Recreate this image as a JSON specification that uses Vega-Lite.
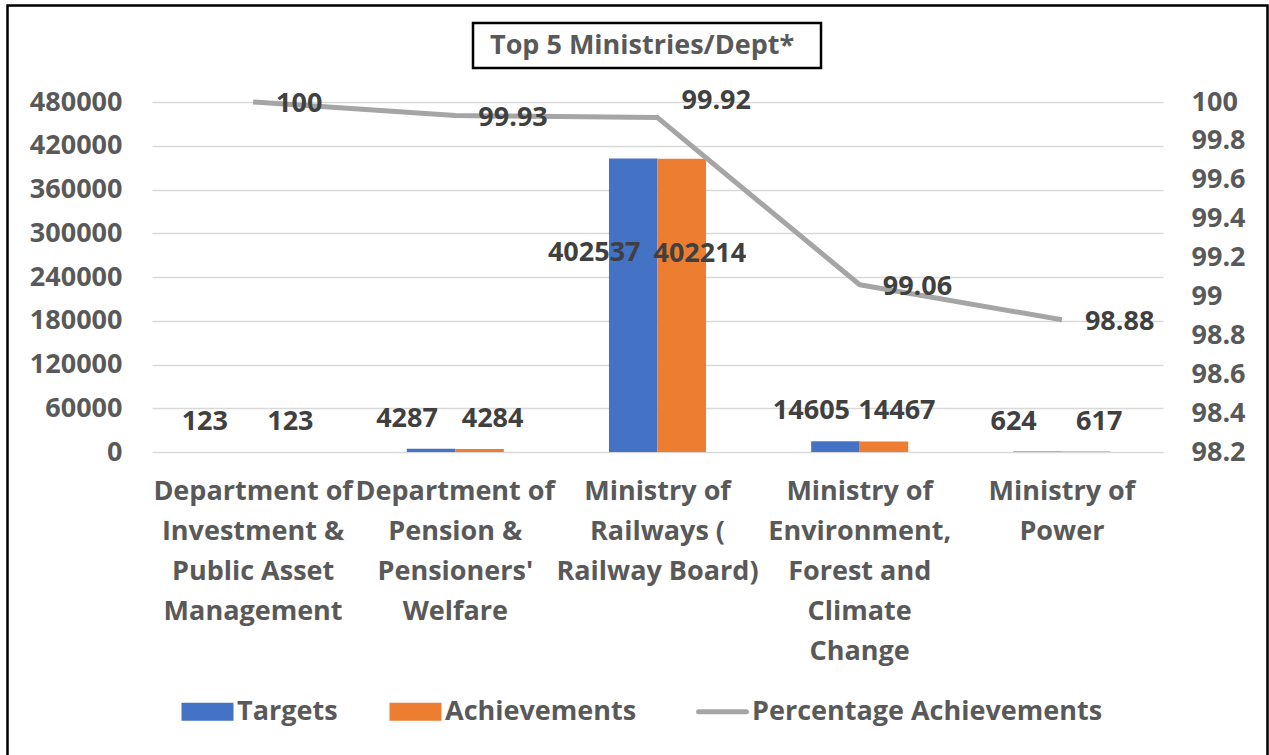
{
  "$schema": "https://vega.github.io/schema/vega-lite/v6.json",
  "autosize": {"type": "none"},
  "width": 1011,
  "height": 350,
  "padding": {"left": 152, "top": 102, "right": 106, "bottom": 303},
  "background": "#ffffff",
  "datasets": {
    "bars": [
      {"category": "Department of Investment & Public Asset Management", "series": "Targets", "value": 123},
      {"category": "Department of Investment & Public Asset Management", "series": "Achievements", "value": 123},
      {"category": "Department of Pension & Pensioners' Welfare", "series": "Targets", "value": 4287},
      {"category": "Department of Pension & Pensioners' Welfare", "series": "Achievements", "value": 4284},
      {"category": "Ministry of Railways ( Railway Board)", "series": "Targets", "value": 402537},
      {"category": "Ministry of Railways ( Railway Board)", "series": "Achievements", "value": 402214},
      {"category": "Ministry of Environment, Forest and Climate Change", "series": "Targets", "value": 14605},
      {"category": "Ministry of Environment, Forest and Climate Change", "series": "Achievements", "value": 14467},
      {"category": "Ministry of Power", "series": "Targets", "value": 624},
      {"category": "Ministry of Power", "series": "Achievements", "value": 617}
    ],
    "pct": [
      {"category": "Department of Investment & Public Asset Management", "pct": 100},
      {"category": "Department of Pension & Pensioners' Welfare", "pct": 99.93},
      {"category": "Ministry of Railways ( Railway Board)", "pct": 99.92},
      {"category": "Ministry of Environment, Forest and Climate Change", "pct": 99.06},
      {"category": "Ministry of Power", "pct": 98.88}
    ],
    "caption": [{"caption": "Top 5 Ministries/Dept*"}]
  },
  "layer": [
    {
      "data": {"name": "bars"},
      "layer": [
        {
          "mark": {"type": "bar"},
          "encoding": {
            "x": {"field": "category", "type": "nominal", "sort": null, "scale": {"paddingInner": 0.52, "paddingOuter": 0.26},
              "axis": {"title": null, "orient": "bottom", "labelAngle": 0, "domain": false, "ticks": false, "labelPadding": 26, "labelLimit": 0, "labelFontSize": 27, "labelLineHeight": 40, "labelColor": "#595959", "labelFontWeight": "bold", "labelFont": "Open Sans",
                "labelExpr": "indexof(datum.value,'Investment')>=0 ? ['Department of','Investment &','Public Asset','Management'] : indexof(datum.value,'Pension')>=0 ? ['Department of','Pension &',\"Pensioners'\",'Welfare'] : indexof(datum.value,'Railways')>=0 ? ['Ministry of','Railways (','Railway Board)'] : indexof(datum.value,'Environment')>=0 ? ['Ministry of','Environment,','Forest and','Climate','Change'] : ['Ministry of','Power']"}},
            "xOffset": {"field": "series", "type": "nominal", "scale": {"domain": ["Targets", "Achievements"]}},
            "y": {"field": "value", "type": "quantitative", "scale": {"domain": [0, 480000], "nice": false},
              "axis": {"title": null, "orient": "left", "domain": false, "ticks": false, "labelPadding": 30, "values": [0, 60000, 120000, 180000, 240000, 300000, 360000, 420000, 480000], "format": "d", "grid": true, "gridColor": "#D9D9D9", "gridWidth": 1.5, "labelFontSize": 27, "labelColor": "#595959", "labelFontWeight": "bold", "labelFont": "Open Sans", "labelOverlap": false}},
            "color": {"field": "series", "type": "nominal",
              "scale": {"domain": ["Targets", "Achievements", "Percentage Achievements"], "range": ["#4472C4", "#ED7D31", "#A5A5A5"]},
              "legend": {
                "orient": "none", "legendX": 42, "legendY": 596, "direction": "horizontal", "title": null,
                "padding": 0, "symbolType": "M-1,-0.35L1,-0.35L1,0.35L-1,0.35Z", "symbolSize": 2704,
                "labelOffset": 16, "columnPadding": 51, "labelFontSize": 27, "labelFont": "Open Sans", "labelFontWeight": "bold", "labelColor": "#595959", "labelLimit": 0,
                "encode": {"symbols": {"update": {
                  "shape": {"signal": "datum.label === 'Percentage Achievements' ? 'M-0.92,0L0.92,0' : 'M-1,-0.35L1,-0.35L1,0.35L-1,0.35Z'"},
                  "fill": {"signal": "datum.label === 'Targets' ? '#4472C4' : datum.label === 'Achievements' ? '#ED7D31' : 'transparent'"},
                  "stroke": {"signal": "datum.label === 'Percentage Achievements' ? '#A5A5A5' : 'transparent'"},
                  "strokeWidth": {"signal": "datum.label === 'Percentage Achievements' ? 5 : 0"},
                  "strokeCap": {"value": "round"},
                  "opacity": {"value": 1}
                }}}
              }}
          }
        },
        {
          "transform": [{"filter": "datum.series == 'Targets' && datum.value < 100000"}],
          "mark": {"type": "text", "dx": -24, "dy": -30, "fontSize": 27, "fontWeight": "bold", "font": "Open Sans", "color": "#404040", "baseline": "middle"},
          "encoding": {
            "x": {"field": "category", "type": "nominal", "sort": null},
            "xOffset": {"field": "series", "type": "nominal", "scale": {"domain": ["Targets", "Achievements"]}},
            "y": {"field": "value", "type": "quantitative"},
            "text": {"field": "value", "type": "quantitative", "format": "d"}
          }
        },
        {
          "transform": [{"filter": "datum.series == 'Achievements' && datum.value < 100000"}],
          "mark": {"type": "text", "dx": 13, "dy": -30, "fontSize": 27, "fontWeight": "bold", "font": "Open Sans", "color": "#404040", "baseline": "middle"},
          "encoding": {
            "x": {"field": "category", "type": "nominal", "sort": null},
            "xOffset": {"field": "series", "type": "nominal", "scale": {"domain": ["Targets", "Achievements"]}},
            "y": {"field": "value", "type": "quantitative"},
            "text": {"field": "value", "type": "quantitative", "format": "d"}
          }
        },
        {
          "transform": [{"filter": "datum.series == 'Targets' && datum.value >= 100000"}],
          "mark": {"type": "text", "dx": -39, "dy": 95, "fontSize": 27, "fontWeight": "bold", "font": "Open Sans", "color": "#404040", "baseline": "middle"},
          "encoding": {
            "x": {"field": "category", "type": "nominal", "sort": null},
            "xOffset": {"field": "series", "type": "nominal", "scale": {"domain": ["Targets", "Achievements"]}},
            "y": {"field": "value", "type": "quantitative"},
            "text": {"field": "value", "type": "quantitative", "format": "d"}
          }
        },
        {
          "transform": [{"filter": "datum.series == 'Achievements' && datum.value >= 100000"}],
          "mark": {"type": "text", "dx": 18, "dy": 95, "fontSize": 27, "fontWeight": "bold", "font": "Open Sans", "color": "#404040", "baseline": "middle"},
          "encoding": {
            "x": {"field": "category", "type": "nominal", "sort": null},
            "xOffset": {"field": "series", "type": "nominal", "scale": {"domain": ["Targets", "Achievements"]}},
            "y": {"field": "value", "type": "quantitative"},
            "text": {"field": "value", "type": "quantitative", "format": "d"}
          }
        }
      ]
    },
    {
      "data": {"name": "pct"},
      "layer": [
        {
          "mark": {"type": "line", "color": "#A5A5A5", "strokeWidth": 5, "strokeJoin": "round"},
          "encoding": {
            "x": {"field": "category", "type": "nominal", "sort": null, "scale": {"paddingInner": 0.52, "paddingOuter": 0.26}},
            "y": {"field": "pct", "type": "quantitative", "scale": {"domain": [98.2, 100], "nice": false, "zero": false},
              "axis": {"title": null, "orient": "right", "domain": false, "ticks": false, "grid": false, "labelPadding": 28, "labelOverlap": false, "labelBound": false, "values": [98.2, 98.4, 98.6, 98.8, 99, 99.2, 99.4, 99.6, 99.8, 100], "format": "~g", "labelFontSize": 27, "labelColor": "#595959", "labelFontWeight": "bold", "labelFont": "Open Sans"}}
          }
        },
        {
          "transform": [{"filter": "indexof(datum.category, 'Railways') < 0"}],
          "mark": {"type": "text", "align": "left", "baseline": "middle", "dx": 23, "dy": 2, "fontSize": 27, "fontWeight": "bold", "font": "Open Sans", "color": "#404040"},
          "encoding": {
            "x": {"field": "category", "type": "nominal", "sort": null},
            "y": {"field": "pct", "type": "quantitative",
              "axis": {"title": null, "orient": "right", "domain": false, "ticks": false, "grid": false, "labelPadding": 28, "labelOverlap": false, "labelBound": false, "values": [98.2, 98.4, 98.6, 98.8, 99, 99.2, 99.4, 99.6, 99.8, 100], "format": "~g", "labelFontSize": 27, "labelColor": "#595959", "labelFontWeight": "bold", "labelFont": "Open Sans"}},
            "text": {"field": "pct", "type": "quantitative", "format": ".4~r"}
          }
        },
        {
          "transform": [{"filter": "indexof(datum.category, 'Railways') >= 0"}],
          "mark": {"type": "text", "align": "left", "baseline": "middle", "dx": 24, "dy": -17, "fontSize": 27, "fontWeight": "bold", "font": "Open Sans", "color": "#404040"},
          "encoding": {
            "x": {"field": "category", "type": "nominal", "sort": null},
            "y": {"field": "pct", "type": "quantitative",
              "axis": {"title": null, "orient": "right", "domain": false, "ticks": false, "grid": false, "labelPadding": 28, "labelOverlap": false, "labelBound": false, "values": [98.2, 98.4, 98.6, 98.8, 99, 99.2, 99.4, 99.6, 99.8, 100], "format": "~g", "labelFontSize": 27, "labelColor": "#595959", "labelFontWeight": "bold", "labelFont": "Open Sans"}},
            "text": {"field": "pct", "type": "quantitative", "format": ".4~r"}
          }
        }
      ]
    },
    {
      "data": {"name": "caption"},
      "mark": {"type": "point", "opacity": 0},
      "encoding": {
        "shape": {"field": "caption", "type": "nominal",
          "legend": {"orient": "none", "legendX": 321, "legendY": -79, "title": null, "symbolSize": 4, "symbolOpacity": 0, "symbolOffset": 315.5,
            "labelOffset": -334.5, "padding": 9, "strokeColor": "#000000", "labelFontSize": 27, "labelFont": "Open Sans", "labelFontWeight": "bold", "labelColor": "#595959", "labelLimit": 0,
            "encode": {"labels": {"update": {"dy": {"value": -2}}}}}}
      }
    },
    {
      "data": {"name": "caption"},
      "mark": {"type": "point", "opacity": 0},
      "encoding": {
        "strokeDash": {"field": "caption", "type": "nominal",
          "scale": {"domain": ["Top 5 Ministries/Dept*"]},
          "legend": {"orient": "none", "legendX": -144.5, "legendY": -96.5, "title": null, "symbolSize": 0, "symbolOpacity": 0,
            "labelOffset": 508.5, "padding": 374.75, "strokeColor": "#000000", "labelFontSize": 1, "labelOpacity": 0, "labelLimit": 0,
            "labelExpr": "''"}}
      }
    }
  ],
  "resolve": {"scale": {"y": "independent"}},
  "config": {
    "font": "Open Sans",
    "view": {"stroke": null},
    "axis": {"labelOverlap": false},
    "legend": {"strokeWidth": 2.5}
  }
}
